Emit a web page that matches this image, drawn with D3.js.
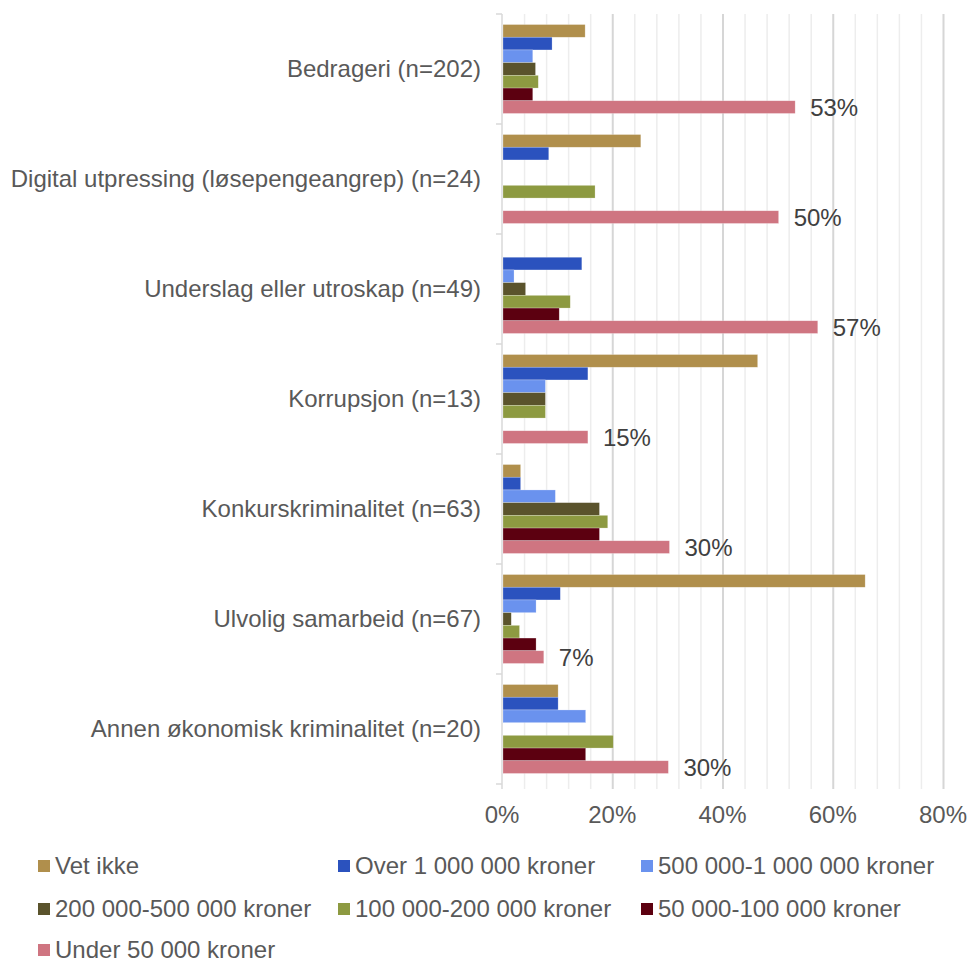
<!DOCTYPE html>
<html>
<head>
<meta charset="utf-8">
<script src="https://cdn.jsdelivr.net/npm/d3@7"></script>
<style>
  body { margin: 0; background: #fff; }
  svg text { font-family: "Liberation Sans", Arial, sans-serif; }
</style>
</head>
<body>
<div id="chart"></div>
<script>
var categories = [
  "Bedrageri (n=202)",
  "Digital utpressing (løsepengeangrep) (n=24)",
  "Underslag eller utroskap (n=49)",
  "Korrupsjon (n=13)",
  "Konkurskriminalitet (n=63)",
  "Ulvolig samarbeid (n=67)",
  "Annen økonomisk kriminalitet (n=20)"
];

var seriesNames = [
  "Vet ikke",
  "Over 1 000 000 kroner",
  "500 000-1 000 000 kroner",
  "200 000-500 000 kroner",
  "100 000-200 000 kroner",
  "50 000-100 000 kroner",
  "Under 50 000 kroner"
];

var seriesColors = ["#b08f4c", "#2b52be", "#6a92ee", "#5a532c", "#8d9a41", "#5c0010", "#cf7581"];

// percent per category, one array per series
var vetIkke  = [14.9, 25.0, 0,    46.2, 3.2,  65.7, 10];
var over1M   = [8.9,  8.3,  14.3, 15.4, 3.2,  10.4, 10];
var s500k    = [5.4,  0,    2.0,  7.7,  9.5,  6.0,  15];
var s200k    = [5.9,  0,    4.1,  7.7,  17.5, 1.5,  0];
var s100k    = [6.4,  16.7, 12.2, 7.7,  19.0, 3.0,  20];
var s50k     = [5.4,  0,    10.2, 0,    17.5, 6.0,  15];
var under50k = [53.0, 50.0, 57.1, 15.4, 30.2, 7.4,  30];

var seriesValues = [vetIkke, over1M, s500k, s200k, s100k, s50k, under50k];
var xTicks = [0, 20, 40, 60, 80];

var width = 969, height = 961;
var plot = {left: 502, right: 943, top: 14, bottom: 784};

var svg = d3.select("#chart").append("svg")
    .attr("width", width)
    .attr("height", height);

var x = d3.scaleLinear().domain([0, 80]).range([plot.left, plot.right]);
var y = d3.scaleBand().domain(categories).range([plot.top, plot.bottom]);
var yInner = d3.scaleBand().domain(seriesNames).range([0, y.bandwidth()]).paddingOuter(0.83);

// minor + major gridlines
var minor = d3.range(4, 81, 4).filter(function(d) { return d % 20 !== 0; });
svg.append("g").selectAll("line")
    .data(minor)
  .enter().append("line")
    .attr("x1", function(d) { return x(d) + 0.5; })
    .attr("x2", function(d) { return x(d) + 0.5; })
    .attr("y1", plot.top)
    .attr("y2", plot.bottom + 5)
    .attr("stroke", "#ededed")
    .attr("stroke-width", 1.5);

svg.append("g").selectAll("line")
    .data(xTicks.slice(1))
  .enter().append("line")
    .attr("x1", function(d) { return x(d) + 0.5; })
    .attr("x2", function(d) { return x(d) + 0.5; })
    .attr("y1", plot.top)
    .attr("y2", plot.bottom + 5)
    .attr("stroke", "#d6d6d6")
    .attr("stroke-width", 2);

// category axis
svg.append("line")
    .attr("x1", plot.left).attr("x2", plot.left)
    .attr("y1", plot.top).attr("y2", plot.bottom + 5)
    .attr("stroke", "#d9d9d9")
    .attr("stroke-width", 1.5);

svg.append("g").selectAll("line")
    .data(d3.range(categories.length + 1))
  .enter().append("line")
    .attr("x1", plot.left - 6)
    .attr("x2", plot.left)
    .attr("y1", function(i) { return plot.top + i * y.step(); })
    .attr("y2", function(i) { return plot.top + i * y.step(); })
    .attr("stroke", "#d9d9d9")
    .attr("stroke-width", 1.5);

svg.append("g").selectAll("text")
    .data(categories)
  .enter().append("text")
    .attr("x", 481)
    .attr("y", function(d) { return y(d) + y.bandwidth() / 2; })
    .attr("dy", "0.35em")
    .attr("text-anchor", "end")
    .attr("font-size", "24px")
    .attr("fill", "#595959")
    .text(function(d) { return d; });

// x tick labels
svg.append("g").selectAll("text")
    .data(xTicks)
  .enter().append("text")
    .attr("x", function(d) { return x(d); })
    .attr("y", 823)
    .attr("text-anchor", "middle")
    .attr("font-size", "24px")
    .attr("fill", "#595959")
    .text(function(d) { return d + "%"; });

// bars, one group per series, zero values skipped
seriesNames.forEach(function(name, si) {
  var rows = seriesValues[si].map(function(v, i) { return {cat: categories[i], v: v}; })
    .filter(function(d) { return d.v > 0; });
  svg.append("g").selectAll("rect")
      .data(rows)
    .enter().append("rect")
      .attr("x", x(0) + 1)
      .attr("y", function(d) { return y(d.cat) + yInner(name); })
      .attr("width", function(d) { return x(d.v) - x(0); })
      .attr("height", yInner.bandwidth())
      .attr("fill", seriesColors[si])
      .attr("stroke", "#fff")
      .attr("stroke-opacity", 0.4)
      .attr("stroke-width", 0.6);
});

// data labels for "Under 50 000 kroner"
var last = seriesNames[seriesNames.length - 1];
svg.append("g").selectAll("text")
    .data(under50k)
  .enter().append("text")
    .attr("x", function(d) { return x(d) + 16; })
    .attr("y", function(d, i) { return y(categories[i]) + yInner(last) + yInner.bandwidth() / 2; })
    .attr("dy", "0.35em")
    .attr("font-size", "24px")
    .attr("fill", "#404040")
    .text(function(d) { return Math.round(d) + "%"; });

// legend
var legendCols = [38, 338, 641];
var legendRows = [866, 909, 950];
var legend = svg.append("g").selectAll("g")
    .data(seriesNames)
  .enter().append("g")
    .attr("transform", function(d, i) {
      return "translate(" + legendCols[i % 3] + "," + legendRows[Math.floor(i / 3)] + ")";
    });

legend.append("rect")
    .attr("x", 0).attr("y", -6)
    .attr("width", 12).attr("height", 12)
    .attr("fill", function(d, i) { return seriesColors[i]; });

legend.append("text")
    .attr("x", 17)
    .attr("dy", "0.35em")
    .attr("font-size", "24px")
    .attr("fill", "#595959")
    .text(function(d) { return d; });
</script>
</body>
</html>
